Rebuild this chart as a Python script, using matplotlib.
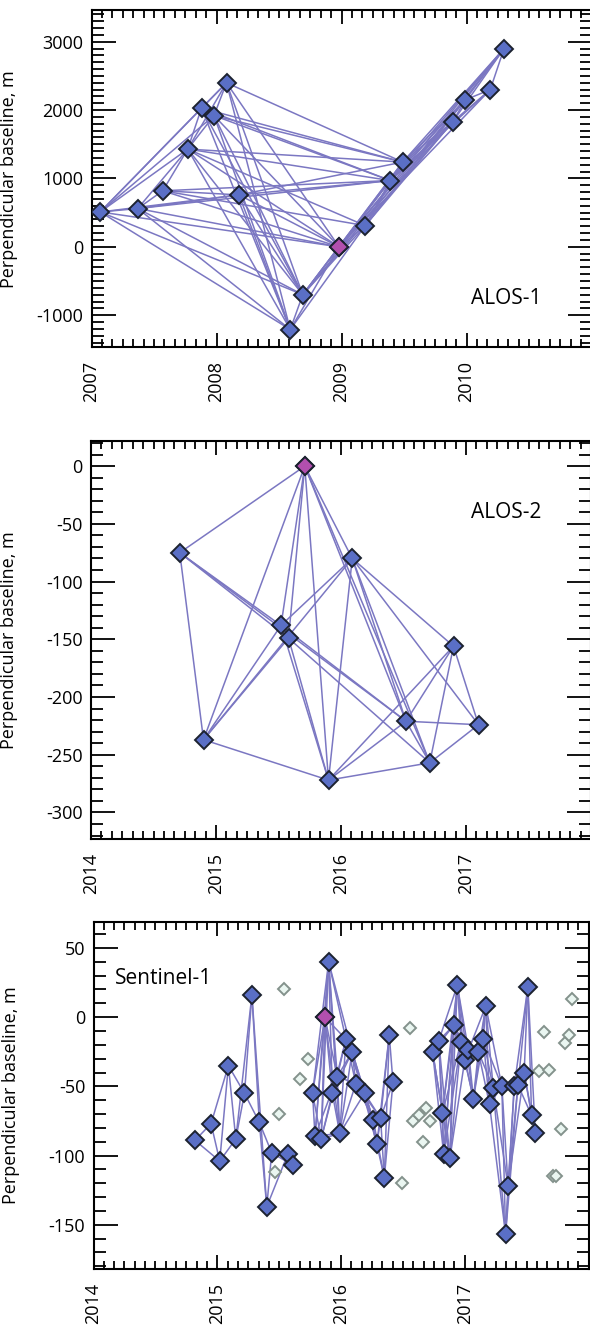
import numpy as np
import matplotlib
matplotlib.use('Agg')
import matplotlib.pyplot as plt
from matplotlib.ticker import MultipleLocator

plt.rcParams['font.family'] = ['Open Sans', 'DejaVu Sans']
plt.rcParams['axes.unicode_minus'] = False

#%%# ------------------------ data
# ALOS-1 acquisitions (decimal year, perpendicular baseline m)
alos1_t = [2007.07, 2007.37, 2007.57, 2007.77, 2007.88, 2007.98, 2008.08, 2008.18, 2008.59,
           2008.69, 2008.98, 2009.19, 2009.39, 2009.49, 2009.89, 2009.99, 2010.19, 2010.30]
alos1_b = [510, 560, 820, 1430, 2030, 1920, 2400, 760, -1210,
           -700, 0, 310, 970, 1240, 1830, 2150, 2300, 2900]
alos1_ref = 10
alos1_pairs = {0: [1, 3, 4, 5, 6, 7, 8, 9, 10],
               1: [2, 3, 7, 8, 9, 10, 12],
               2: [3, 7, 10, 11, 12],
               3: [4, 5, 6, 8, 9, 10, 11, 12, 13],
               4: [5, 6, 8, 9, 12, 13],
               5: [6, 8, 9, 10, 12, 13],
               6: [8, 9, 10, 13],
               7: [8, 9, 10, 12, 13],
               8: [9, 10, 11],
               9: [10, 11, 12, 13, 14, 15],
               10: [11, 12, 13, 14, 15, 16, 17],
               11: [12, 13, 14, 15, 17],
               12: [13, 14, 15, 16, 17],
               13: [14, 15, 17],
               14: [15, 16, 17],
               15: [16, 17],
               16: [17]}

# ALOS-2
alos2_t = [2014.71, 2014.90, 2015.52, 2015.58, 2015.71, 2015.90, 2016.09, 2016.52, 2016.71, 2016.90, 2017.10]
alos2_b = [-75, -237, -138, -149, 0, -272, -80, -221, -257, -156, -224]
alos2_ref = 4
alos2_pairs = {0: [1, 2, 3, 4, 7],
               1: [2, 3, 4, 5, 6],
               2: [4, 5, 6, 7],
               3: [4, 5, 8],
               4: [5, 6, 7, 8],
               5: [6, 7, 8, 9],
               6: [7, 8, 9, 10],
               7: [8, 9, 10],
               8: [9, 10],
               9: [10]}

# Sentinel-1, used acquisitions
s1_t = [2014.82, 2014.95, 2015.02, 2015.09, 2015.15, 2015.22, 2015.28, 2015.34, 2015.40, 2015.44,
        2015.57, 2015.61, 2015.77, 2015.79, 2015.84, 2015.87, 2015.90, 2015.93, 2015.97, 2015.99,
        2016.04, 2016.09, 2016.12, 2016.19, 2016.26, 2016.29, 2016.32, 2016.35, 2016.39, 2016.42,
        2016.74, 2016.79, 2016.82, 2016.83, 2016.88, 2016.91, 2016.94, 2016.97, 2017.00, 2017.03,
        2017.07, 2017.11, 2017.15, 2017.17, 2017.20, 2017.23, 2017.30, 2017.33, 2017.35, 2017.40,
        2017.43, 2017.48, 2017.51, 2017.54, 2017.57]
s1_b = [-89, -77, -104, -35, -88, -55, 16, -76, -137, -98,
        -99, -107, -55, -86, -88, 0, 40, -55, -43, -84,
        -16, -25, -48, -55, -74, -92, -73, -116, -13, -47,
        -25, -17, -69, -99, -102, -6, 23, -18, -31, -24,
        -59, -25, -16, 8, -63, -51, -50, -157, -122, -50,
        -49, -40, 22, -71, -84]
s1_ref = 15
s1_pairs = {0: [1, 2], 1: [2, 3], 2: [3, 4], 3: [4, 5], 4: [5, 6], 5: [6, 7], 6: [7, 8],
            7: [8, 9], 8: [9, 10], 9: [10, 11], 10: [11],
            12: [13, 14, 15, 16, 17], 13: [14, 15, 16, 18, 19], 14: [15, 16, 17, 18, 19],
            15: [16, 17, 18, 19, 20], 16: [17, 18, 19, 20, 21], 17: [18, 19, 20, 21],
            18: [19, 20, 21, 22], 19: [20, 21, 22, 23], 20: [21, 22, 23, 24],
            21: [22, 23, 24, 25], 22: [23, 24, 26], 23: [24, 25, 26], 24: [25, 26, 27],
            25: [26, 27, 28], 26: [27, 28, 29], 27: [28, 29], 28: [29],
            30: [31, 32, 33, 34, 35], 31: [32, 33, 34, 35, 36], 32: [33, 34, 35, 36, 37],
            33: [34, 35, 36, 37], 34: [35, 36, 37, 38], 35: [36, 37, 38, 39],
            36: [37, 38, 39, 40], 37: [38, 39, 40, 41], 38: [39, 40, 41, 42],
            39: [40, 41, 42, 43], 40: [41, 42, 43], 41: [42, 43, 44, 45],
            42: [43, 44, 45, 46], 43: [44, 45, 46], 44: [45, 46, 47], 45: [46, 47, 48],
            46: [47, 48, 49], 47: [48, 49, 50], 48: [49, 50, 51], 49: [50, 51, 52],
            50: [51, 52, 53], 51: [52, 53, 54], 52: [53, 54], 53: [54]}

# Sentinel-1, acquisitions not used
s1x_t = [2015.54, 2015.47, 2015.50, 2015.67, 2015.73, 2016.49, 2016.56, 2016.58, 2016.63, 2016.66,
         2016.69, 2016.72, 2017.60, 2017.64, 2017.68, 2017.71, 2017.74, 2017.78, 2017.81, 2017.84, 2017.87]
s1x_b = [20, -112, -70, -45, -30, -120, -8, -75, -71, -90,
         -66, -75, -39, -11, -38, -115, -115, -81, -19, -13, 13]

#%%# ------------------------ plot
line_c = '#7b77c2'
node_c = '#5a6fc6'
ref_c = '#b24fae'
edge_c = '#1c2230'
ms = 9.4

W, H = 590, 1325
fig = plt.figure(figsize=(W / 100, H / 100), dpi=100)


def make_ax(left, right, top, bottom):
    return fig.add_axes([left / W, 1 - bottom / H, (right - left) / W, (bottom - top) / H])


def network(ax, t, b, pairs, ref):
    for i in pairs:
        for j in pairs[i]:
            ax.plot([t[i], t[j]], [b[i], b[j]], color=line_c, lw=1.1, zorder=1)
    ax.plot(t, b, 'D', ms=ms, mfc=node_c, mec=edge_c, mew=1.4, zorder=3)
    ax.plot(t[ref], b[ref], 'D', ms=ms, mfc=ref_c, mec=edge_c, mew=1.4, zorder=4)


def style(ax, x0, ymaj, ymin, lab_x):
    ax.set_xlim(x0, x0 + 4)
    ax.xaxis.set_major_locator(MultipleLocator(1))
    ax.xaxis.set_minor_locator(MultipleLocator(1 / 12))
    ax.yaxis.set_major_locator(MultipleLocator(ymaj))
    ax.yaxis.set_minor_locator(MultipleLocator(ymin))
    ax.tick_params(axis='both', which='both', direction='in', top=True, right=True, width=1.3, labelsize=13)
    ax.tick_params(axis='y', which='major', length=17, pad=6)
    ax.tick_params(axis='y', which='minor', length=8.5)
    ax.tick_params(axis='x', which='major', length=10)
    ax.tick_params(axis='x', which='minor', length=5.5)
    yrs = np.arange(x0, x0 + 4)
    ax.set_xticks(yrs)
    ax.set_xticklabels([str(y) for y in yrs], rotation=90, fontsize=13)
    ax.tick_params(axis='x', which='major', pad=10)
    for s in ax.spines.values():
        s.set_linewidth(1.5)
    ax.set_ylabel('Perpendicular baseline, m', fontsize=13)
    ax.yaxis.set_label_coords(lab_x, 0.5)


# ALOS-1
ax1 = make_ax(91.5, 591.5, 10, 347.3)
network(ax1, alos1_t, alos1_b, alos1_pairs, alos1_ref)
style(ax1, 2007, 1000, 100, (18 - 91.5) / 500)
ax1.set_ylim(-1470, 3465)
ax1.text(2010.32, -760, 'ALOS-1', fontsize=15, ha='center', va='center')

# ALOS-2
ax2 = make_ax(91, 591, 440.7, 839)
network(ax2, alos2_t, alos2_b, alos2_pairs, alos2_ref)
style(ax2, 2014, 50, 10, (18 - 91) / 500)
ax2.set_ylim(-323, 22)
ax2.text(2017.32, -40, 'ALOS-2', fontsize=15, ha='center', va='center')

# Sentinel-1
ax3 = make_ax(93.5, 588.5, 921.7, 1269)
ax3.plot(s1x_t, s1x_b, 'D', ms=6.4, mfc='#eaf6f1', mec='#84928c', mew=1.4, zorder=2)
network(ax3, s1_t, s1_b, s1_pairs, s1_ref)
style(ax3, 2014, 50, 10, (20 - 93.5) / 495)
ax3.set_ylim(-182, 69)
ax3.text(2014.57, 28, 'Sentinel-1', fontsize=15, ha='center', va='center')

plt.savefig('out.png', dpi=100)
